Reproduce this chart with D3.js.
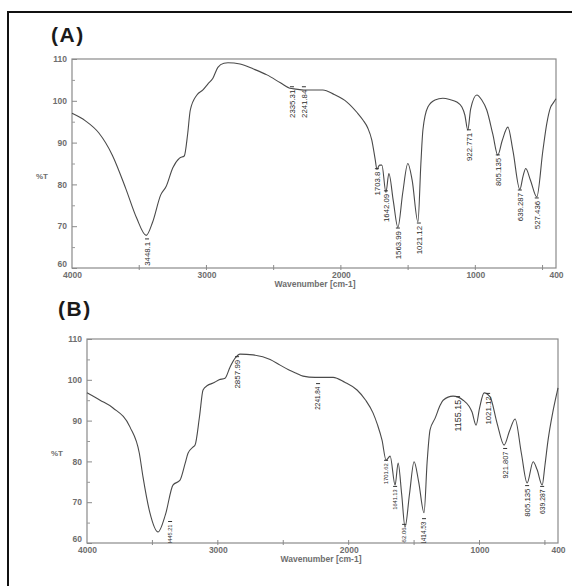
<!DOCTYPE html>
<html>
<head>
<meta charset="utf-8">
<script src="https://cdn.jsdelivr.net/npm/d3@7"></script>
<style>
  body { margin: 0; background: #fff; }
  svg { display: block; }
</style>
</head>
<body>
<script>
// spectrum (A) - wavenumber / %T
var wnA = [4000, 3900, 3800, 3700, 3600, 3520, 3448, 3400, 3340, 3300, 3250, 3200, 3165, 3140, 3120, 3071, 3026, 2990, 2952, 2915, 2870, 2840, 2750, 2650, 2550, 2450, 2380, 2335, 2275, 2200, 2134, 2050, 1955, 1880, 1836, 1800, 1770, 1745, 1732, 1712, 1695, 1665, 1643, 1610, 1576, 1540, 1502, 1470, 1427, 1405, 1390, 1353, 1300, 1242, 1190, 1138, 1100, 1078, 1056, 1035, 989, 952, 915, 870, 833, 800, 758, 720, 669, 645, 625, 590, 543, 498, 469, 440, 420, 400];
var tA  = [97, 95.2, 92.3, 87, 79, 72, 67.8, 71, 77.5, 79.5, 84, 86.3, 86.8, 92, 97.8, 101.4, 102.6, 104, 105.4, 108, 109, 109.1, 108.8, 107.6, 106.2, 104.3, 103, 102.8, 102.6, 102.6, 102.6, 101.5, 99.7, 97.2, 95.4, 93.5, 90.6, 86, 83.6, 84.6, 84.6, 78.1, 82.6, 76, 69.7, 78, 85, 81, 71, 85, 93, 98.5, 100.2, 100.6, 100.3, 99.7, 98.5, 96.6, 93, 98, 101.4, 100.2, 97.8, 92, 87, 90.5, 93.7, 88, 78.8, 82, 83.8, 81, 77, 88, 94.5, 98.5, 99.5, 100.5];

// spectrum (B)
var wnB = [4000, 3900, 3801, 3671, 3600, 3572, 3520, 3457, 3400, 3343, 3289, 3250, 3228, 3190, 3174, 3140, 3113, 3080, 3036, 2990, 2945, 2907, 2868, 2830, 2730, 2600, 2524, 2456, 2400, 2349, 2257, 2119, 2030, 1936, 1870, 1814, 1780, 1745, 1714, 1683, 1645, 1622, 1595, 1569, 1535, 1500, 1465, 1424, 1400, 1378, 1339, 1300, 1278, 1202, 1125, 1080, 1057, 1026, 1000, 965, 919, 866, 812, 770, 728, 680, 636, 590, 560, 521, 500, 476, 440, 407, 400];
var tB  = [96.8, 95, 93.1, 88.4, 82, 76.2, 67.5, 62.7, 67, 74.2, 75.4, 79.5, 82, 83.5, 84, 91, 97.5, 98.6, 99.2, 100, 100.4, 103.1, 105.3, 106.3, 106.1, 105, 103.6, 102.4, 101.6, 100.9, 100.6, 100.6, 99.4, 97.5, 95, 91.9, 89, 85.2, 80.3, 81.3, 74.2, 79.6, 72, 63.9, 72, 79.9, 75, 67.4, 80, 87.7, 90.6, 93.8, 95, 96, 95, 93.5, 92.1, 88.9, 93, 96.8, 95.8, 89.4, 84, 87.5, 90.4, 82, 74.7, 79.9, 78, 74.2, 79, 85.2, 92, 97, 98];

// peak annotations: where the label sits (wavenumber axis), the %T of its top, and its text
var peakWnA   = [3442, 2364, 2275, 1732, 1665, 1576, 1420, 1048, 833, 669, 543];
var peakTopA  = [66.6, 103, 103, 83.4, 78.1, 69.2, 70.4, 92.7, 86.7, 78.3, 76.4];
var peakTextA = ["3448.1", "2335.31", "2241.84", "1703.8", "1642.09", "1563.99", "1021.12", "922.771", "805.135", "639.287", "527.436"];

var peakWnB   = [3365, 2853, 2234, 1714, 1645, 1576, 1424, 1164, 934, 804, 636, 521];
var peakTopB  = [64.9, 105.3, 98.7, 79.9, 73.5, 64.2, 65.6, 95.5, 96.3, 82.8, 73.7, 73.5];
var peakTextB = ["3445.21", "2857.99", "2241.84", "1701.62", "1641.13", "1562.06", "1414.53", "1155.15", "1021.12", "921.807", "805.135", "639.287"];

var yTicks = [60, 70, 80, 90, 100, 110];
var yMinor = [65, 75, 85, 95, 105];
var xTickLabels = [4000, 3000, 2000, 1000, 400];
var xMinor = [3500, 3000, 2500, 2000, 1500, 1000, 500];

var W = 572, H = 586;
var FONT = "'Liberation Sans', Arial, sans-serif";
var svg = d3.select("body").append("svg")
    .attr("width", W)
    .attr("height", H)
    .style("font-family", FONT);

// outer frame (runs off the right and bottom of the photo)
svg.append("rect")
    .attr("x", 8).attr("y", 12)
    .attr("width", 620).attr("height", 620)
    .attr("fill", "none")
    .attr("stroke", "#111")
    .attr("stroke-width", 2);

function drawPanel(p) {
    var x = d3.scaleLinear().domain([4000, 400]).range([p.left, p.right]);
    var y = d3.scaleLinear().domain([60, 110]).range([p.bottom, p.top]);
    var g = svg.append("g");

    g.append("text")
        .attr("x", p.titleX).attr("y", p.titleY)
        .attr("font-size", 21).attr("font-weight", "bold")
        .attr("letter-spacing", 1.5)
        .attr("fill", "#1a1a1a")
        .text(p.title);

    g.append("rect")
        .attr("x", p.left).attr("y", p.top)
        .attr("width", p.right - p.left).attr("height", p.bottom - p.top)
        .attr("fill", "none").attr("stroke", "#8a8a8a").attr("stroke-width", 1.2);

    // y axis, ticks point inward
    var ya = g.append("g").attr("transform", "translate(" + p.left + ",0)")
        .call(d3.axisLeft(y).tickValues(yTicks).tickSize(-5).tickPadding(5).tickFormat(d3.format("d")));
    ya.select(".domain").remove();
    ya.selectAll("line").attr("stroke", "#8a8a8a");
    ya.selectAll("text").attr("font-size", 8.5).attr("font-weight", "bold").attr("fill", "#6e6e6e")
        .attr("font-family", FONT)
        .attr("dy", function(d) { return d === 60 ? "-0.15em" : "0.32em"; });

    var ym = g.append("g").attr("transform", "translate(" + p.left + ",0)")
        .call(d3.axisLeft(y).tickValues(yMinor).tickSize(-3).tickFormat(""));
    ym.select(".domain").remove();
    ym.selectAll("line").attr("stroke", "#9a9a9a");

    // x axis labels
    var xa = g.append("g").attr("transform", "translate(0," + p.bottom + ")")
        .call(d3.axisBottom(x).tickValues(xTickLabels).tickSize(0).tickPadding(4).tickFormat(d3.format("d")));
    xa.select(".domain").remove();
    xa.selectAll("text").attr("font-size", 8.5).attr("font-weight", "bold").attr("fill", "#6e6e6e")
        .attr("font-family", FONT);

    // small ticks crossing the bottom axis
    g.selectAll(".xm").data(xMinor).enter().append("line")
        .attr("x1", function(d) { return x(d); })
        .attr("x2", function(d) { return x(d); })
        .attr("y1", p.bottom - 3).attr("y2", p.bottom + 2)
        .attr("stroke", "#8a8a8a");

    g.append("text")
        .attr("x", p.left - 36).attr("y", y(82) + 3)
        .attr("font-size", 8).attr("font-weight", "bold").attr("fill", "#6e6e6e")
        .text("%T");

    g.append("text")
        .attr("x", p.xLabelX).attr("y", p.bottom + 19)
        .attr("text-anchor", "middle")
        .attr("font-size", 8.5).attr("font-weight", "bold").attr("fill", "#6e6e6e")
        .text("Wavenumber [cm-1]");

    // spectrum
    var pts = p.wn.map(function(d, i) { return [x(d), y(p.t[i])]; });
    g.append("path")
        .datum(pts)
        .attr("d", d3.line().curve(d3.curveMonotoneX))
        .attr("fill", "none")
        .attr("stroke", "#4a4a4a")
        .attr("stroke-width", 1.1);

    // peak labels, clipped to the plot box
    var clipId = "clip" + p.title.replace(/\W/g, "");
    svg.append("clipPath").attr("id", clipId).append("rect")
        .attr("x", p.left).attr("y", p.top)
        .attr("width", p.right - p.left).attr("height", p.bottom - p.top);
    var lg = g.append("g").attr("clip-path", "url(#" + clipId + ")");

    p.peakWn.forEach(function(w, i) {
        var px = x(w), py = y(p.peakTop[i]);
        var fs = p.peakSize[i] || p.fontSize;
        lg.append("line")
            .attr("x1", px - 2).attr("x2", px + 2)
            .attr("y1", py - 1.5).attr("y2", py - 1.5)
            .attr("stroke", "#333");
        lg.append("text")
            .attr("transform", "translate(" + px + "," + (py + 1.5) + ") rotate(-90)")
            .attr("text-anchor", "end")
            .attr("dy", "0.35em")
            .attr("font-size", fs)
            .attr("fill", "#2a2a2a")
            .text(p.peakText[i]);
    });
}

drawPanel({
    title: "(A)", titleX: 51, titleY: 42,
    left: 72, right: 556, top: 59, bottom: 268,
    xLabelX: 315,
    wn: wnA, t: tA,
    peakWn: peakWnA, peakTop: peakTopA, peakText: peakTextA,
    fontSize: 7.8, peakSize: []
});

drawPanel({
    title: "(B)", titleX: 58, titleY: 316,
    left: 87, right: 558, top: 339, bottom: 543,
    xLabelX: 321,
    wn: wnB, t: tB,
    peakWn: peakWnB, peakTop: peakTopB, peakText: peakTextB,
    fontSize: 6.6, peakSize: [5.6, 8, 6.4, 5.8, 5.6, 6, 6.4, 9, 7.8, 7.5, 7.8, 6.8]
});
</script>
</body>
</html>
